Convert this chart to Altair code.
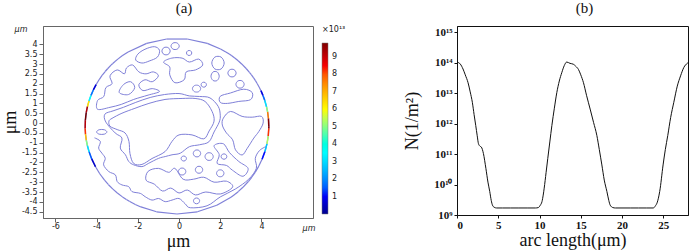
import altair as alt
import numpy as np
import pandas as pd

# ---------------- panel (b): N along the boundary arc ----------------
arc_s = [0.0, 0.4, 0.73, 1.0, 1.34, 1.6, 1.86, 2.07, 2.27, 2.45, 2.6, 2.8, 2.95, 3.2, 3.5,
         3.75, 3.97, 4.15, 4.3, 4.5, 4.8, 5.5, 6.5, 7.5, 8.5, 9.5, 9.85, 10.1, 10.3, 10.45,
         10.57, 10.8, 11.0, 11.25, 11.5, 11.8, 12.1, 12.4, 12.7, 13.0, 13.3, 13.7, 14.1, 14.4,
         14.72, 15.0, 15.33, 15.7, 16.14, 16.55, 16.95, 17.25, 17.56, 17.85, 18.17, 18.4,
         18.57, 18.9, 19.2, 20.0, 21.0, 22.0, 23.0, 23.8, 24.05, 24.25, 24.57, 24.98, 25.25,
         25.55, 25.9, 26.28, 26.7, 27.1, 27.5, 27.9, 28.0]
arc_N = [1.05e14, 9.0e13, 6.2e13, 4.0e13, 2.2e13, 1.1e13, 5.0e12, 2.0e12, 8.7e11, 4.0e11,
         2.2e11, 1.8e11, 1.7e11, 1.05e11, 3.4e10, 1.2e10, 5.9e9, 3.0e9, 2.1e9, 1.8e9, 1.7e9,
         1.7e9, 1.7e9, 1.7e9, 1.7e9, 1.7e9, 1.75e9, 2.1e9, 2.75e9, 4.5e9, 7.6e9, 2.5e10,
         7.1e10, 2.5e11, 8.7e11, 3.2e12, 1.05e13, 2.5e13, 4.7e13, 8.0e13, 1.05e14, 9.5e13,
         8.9e13, 7.6e13, 6.0e13, 4.0e13, 2.2e13, 8.5e12, 3.0e12, 1.1e12, 4.1e11, 1.4e11,
         4.4e10, 1.4e10, 5.9e9, 3.0e9, 2.1e9, 1.75e9, 1.7e9, 1.7e9, 1.7e9, 1.7e9, 1.7e9,
         1.7e9, 2.0e9, 2.5e9, 5.9e9, 4.4e10, 1.4e11, 4.1e11, 1.6e12, 5.0e12, 1.7e13, 3.7e13,
         7.0e13, 9.5e13, 1.0e14]
decades = [1e9, 1e10, 1e11, 1e12, 1e13, 1e14, 1e15]
arc_ticks = [0, 5, 10, 15, 20, 25]

# ---------------- panel (a): contour lines (um) ----------------
circle_center = (-0.1, -0.16)
circle_length = 28.0

central = [(-3.25, 0.24), (-2.77, 0.5), (-2.14, 0.75), (-1.46, 1.0), (-0.68, 1.2), (0.15, 1.25),
           (0.78, 1.25), (1.26, 1.1), (1.6, 0.6), (1.7, 0.1), (1.46, -0.4), (1.2, -0.8),
           (0.63, -0.6), (0.0, -0.6), (-0.34, -0.93), (-0.68, -1.45), (-1.31, -1.8), (-1.8, -2.1),
           (-2.2, -2.05), (-2.38, -1.55), (-2.43, -0.93), (-2.62, -0.5), (-3.0, -0.33),
           (-3.35, -0.16), (-3.4, 0.1)]
band = [(-3.6, 0.45), (-3.2, 0.62), (-2.7, 0.8), (-2.1, 1.05), (-1.4, 1.3), (-0.7, 1.45),
        (0.0, 1.5), (0.5, 1.38), (1.0, 1.35), (1.5, 1.28), (1.9, 0.85), (2.0, 0.4), (1.95, 0.05),
        (1.7, -0.45), (1.45, -0.95), (1.0, -1.1), (0.5, -1.2), (0.06, -1.53), (-0.34, -1.61),
        (-0.67, -1.7), (-0.99, -1.79), (-1.47, -2.04), (-1.8, -2.21), (-2.2, -2.12),
        (-2.44, -1.95), (-2.6, -1.61), (-2.85, -1.27), (-2.77, -0.76), (-3.1, -0.5), (-3.55, 0.05)]
upper_left = [(-3.95, 0.7), (-3.95, 1.15), (-3.65, 1.35), (-3.55, 1.8), (-3.25, 2.0), (-3.35, 2.4),
              (-3.0, 2.7), (-2.65, 2.5), (-2.55, 2.8), (-2.25, 2.95), (-1.95, 2.6), (-1.6, 2.5),
              (-1.25, 2.6), (-1.0, 2.4), (-1.3, 2.1), (-1.65, 2.2), (-1.95, 1.95), (-1.75, 1.65),
              (-1.3, 1.75), (-0.95, 1.6), (-1.5, 1.42), (-2.2, 1.2), (-2.8, 0.95), (-3.35, 0.8)]
upper_left_hole = [(-2.9, 1.55), (-2.7, 1.95), (-2.35, 2.1), (-2.15, 1.8), (-2.45, 1.45)]
top_left_blob = [(-2.0, 3.5), (-1.65, 3.75), (-1.2, 3.88), (-0.95, 3.7), (-1.05, 3.35),
                 (-1.45, 3.15), (-1.8, 3.05), (-2.1, 3.2)]
top_middle = [(-0.75, 3.1), (-0.45, 2.85), (-0.45, 2.45), (-0.2, 2.05), (0.25, 2.2), (0.35, 2.6),
              (0.8, 2.7), (1.15, 2.95), (0.95, 3.25), (0.5, 3.1), (0.15, 3.3), (-0.35, 3.3)]
right_upper = [(2.0, 1.36), (2.5, 1.53), (3.14, 1.72), (3.55, 1.55), (3.47, 1.19), (2.9, 1.1),
               (2.35, 1.0), (2.0, 1.05)]
right_middle = [(2.15, 0.25), (2.5, 0.59), (3.06, 0.34), (3.55, 0.3), (4.0, 0.34), (4.08, 0.0),
                (3.87, -0.43), (3.63, -0.76), (3.31, -1.28), (3.06, -1.62), (2.74, -1.36),
                (2.6, -0.85), (2.3, -0.5), (2.1, -0.1)]
bottom_right = [(1.7, -1.15), (2.15, -1.05), (2.45, -1.5), (2.9, -1.95), (3.35, -2.3), (3.1, -2.7),
                (2.6, -2.4), (2.3, -2.15), (1.85, -2.05), (1.95, -1.6)]
bottom = [(-1.5, -2.45), (-1.0, -2.3), (-0.5, -2.5), (-0.2, -2.3), (0.2, -2.85), (0.7, -2.85),
          (1.2, -2.75), (1.7, -3.0), (2.3, -2.95), (2.6, -3.25), (2.0, -3.6), (1.3, -3.5),
          (0.8, -3.65), (0.4, -3.4), (0.0, -3.55), (-0.4, -3.3), (-0.8, -3.45), (-1.2, -3.1),
          (-1.6, -2.9)]
lower_rim = [(-4.1, -0.75), (-3.82, -0.93), (-3.9, -1.27), (-3.74, -1.53), (-3.58, -1.79),
             (-3.66, -2.12), (-3.41, -2.46), (-3.09, -2.63), (-3.0, -2.97), (-2.77, -3.14),
             (-2.44, -3.23), (-2.28, -3.48), (-1.88, -3.57), (-1.64, -3.74), (-1.31, -3.91),
             (-0.99, -3.83), (-0.67, -3.99), (-0.34, -3.91), (0.0, -3.83), (0.3, -4.1),
             (0.55, -4.3), (1.36, -4.2), (2.0, -3.75), (2.73, -3.35), (3.38, -2.85), (3.75, -2.3),
             (3.7, -1.79), (3.9, -1.4), (4.2, -1.2)]
# small islands: centre x, centre y, half-width, half-height (um)
islands = [(-0.19, 3.91, 0.2, 0.18), (-0.63, 3.66, 0.2, 0.2), (0.49, 3.56, 0.13, 0.13),
           (1.89, 3.05, 0.3, 0.35), (2.57, 2.54, 0.2, 0.2), (1.75, 2.38, 0.2, 0.25),
           (2.96, 1.97, 0.2, 0.2), (0.85, 1.75, 0.2, 0.18), (1.2, 1.95, 0.13, 0.13),
           (-3.75, -0.45, 0.25, 0.13), (0.87, -1.54, 0.18, 0.18), (1.46, -1.7, 0.2, 0.2),
           (0.23, -1.8, 0.13, 0.13), (0.97, -2.37, 0.18, 0.18), (0.15, -2.46, 0.18, 0.18),
           (2.0, -2.55, 0.18, 0.18), (2.18, -1.7, 0.14, 0.14), (0.85, -3.95, 0.15, 0.15)]

closed_contours = [central, band, upper_left, upper_left_hole, top_left_blob, top_middle,
                   right_upper, right_middle, bottom_right, bottom]
open_contours = [lower_rim]

# axis ticks and colour bar (x1e13)
a_xticks = [-6, -4, -2, 0, 2, 4]
a_yticks = [-4.5, -4, -3.5, -3, -2.5, -2, -1.5, -1, -0.5, 0, 0.5, 1, 1.5, 2, 2.5, 3, 3.5, 4]
cbar_ticks = [1, 2, 3, 4, 5, 6, 7, 8, 9]
cbar_max = 9.8e13

# ---------------- build tables ----------------
rows = []
cid = 0
for poly in closed_contours:
    for k, (x, y) in enumerate(poly):
        rows.append({"id": cid, "k": k, "x": x, "y": y})
    cid += 1
hexa = [(1, 0), (0.5, 0.866), (-0.5, 0.866), (-1, 0), (-0.5, -0.866), (0.5, -0.866)]
for (cx, cy, rx, ry) in islands:
    for k, (c, s) in enumerate(hexa):
        rows.append({"id": cid, "k": k, "x": cx + rx * c, "y": cy + ry * s})
    cid += 1
closed_df = pd.DataFrame(rows)

rows = []
for poly in open_contours:
    for k, (x, y) in enumerate(poly):
        rows.append({"id": cid, "k": k, "x": x, "y": y})
    cid += 1
open_df = pd.DataFrame(rows)

R = circle_length / (2 * np.pi)
seg = []
for i in range(len(arc_s) - 1):
    a0, a1 = arc_s[i] / R, arc_s[i + 1] / R
    seg.append({
        "x": circle_center[0] + R * np.cos(a0), "y": circle_center[1] + R * np.sin(a0),
        "x2": circle_center[0] + R * np.cos(a1), "y2": circle_center[1] + R * np.sin(a1),
        "N": 0.5 * (arc_N[i] + arc_N[i + 1]),
    })
seg_df = pd.DataFrame(seg)

arc_df = pd.DataFrame({"s": arc_s, "N": arc_N})

# ---------------- panel (a) ----------------
LINE_COL = "#7f80d8"
AX_COL = "#666666"
xs = alt.Scale(domain=[-6.6, 6.5], nice=False, zero=False)
ys = alt.Scale(domain=[-4.82, 4.93], nice=False, zero=False)
xaxis = alt.Axis(values=a_xticks, labelExpr="'' + datum.value", title="μm",
                 titleFont="Liberation Serif", titleFontSize=18, titleFontWeight="normal",
                 titleColor="#111", titlePadding=2, labelFont="DejaVu Sans", labelFontSize=8,
                 labelColor="#222", tickColor=AX_COL, domainColor=AX_COL, tickSize=4,
                 labelPadding=0, grid=False, labelOverlap=False)
yaxis = alt.Axis(values=a_yticks, labelExpr="'' + datum.value", title="μm",
                 titleFont="Liberation Serif", titleFontSize=18, titleFontWeight="normal",
                 titleColor="#111", titlePadding=2, labelFont="DejaVu Sans", labelFontSize=8,
                 labelColor="#222", tickColor=AX_COL, domainColor=AX_COL, tickSize=4,
                 labelPadding=2, grid=False, labelOverlap=False)
X = alt.X("x:Q", scale=xs, axis=xaxis)
Y = alt.Y("y:Q", scale=ys, axis=yaxis)

contours_closed = alt.Chart(closed_df).mark_line(
    interpolate="cardinal-closed", color=LINE_COL, strokeWidth=1
).encode(x=X, y=Y, detail="id:N", order="k:Q")
contours_open = alt.Chart(open_df).mark_line(
    interpolate="cardinal", color=LINE_COL, strokeWidth=1
).encode(x=X, y=Y, detail="id:N", order="k:Q")

rim_base = alt.Chart(seg_df).mark_rule(color=LINE_COL, strokeWidth=1.2).encode(
    x=X, y=Y, x2="x2:Q", y2="y2:Q")

jet = ["#00008f", "#0000ff", "#00ffff", "#ffff00", "#ff0000", "#800000"]
jet_dom = [0, 0.11 * cbar_max, 0.36 * cbar_max, 0.61 * cbar_max, 0.86 * cbar_max, cbar_max]
rim_col = alt.Chart(seg_df).transform_filter("datum.N > 4e12").mark_rule(strokeWidth=1.5).encode(
    x=X, y=Y, x2="x2:Q", y2="y2:Q",
    color=alt.Color("N:Q", scale=alt.Scale(domain=jet_dom, range=jet),
                    legend=alt.Legend(title="×10¹³", values=[v * 1e13 for v in cbar_ticks],
                                      labelExpr="round(datum.value / 1e13)",
                                      gradientLength=171, gradientThickness=6,
                                      gradientStrokeColor="#777", gradientStrokeWidth=0.5,
                                      orient="right", offset=9, direction="vertical",
                                      titleFont="DejaVu Sans", titleFontSize=8,
                                      titleFontWeight="normal", titleColor="#222",
                                      titlePadding=9, labelFont="DejaVu Sans",
                                      labelFontSize=8, labelColor="#222", labelOffset=4,
                                      labelOverlap=False)))

unit_df = pd.DataFrame({"t": ["μm"]})
unit_top = alt.Chart(unit_df).mark_text(font="DejaVu Sans", fontSize=8, color="#222",
                                        fontStyle="italic").encode(
    text="t:N", x=alt.value(-22), y=alt.value(4))
unit_right = alt.Chart(unit_df).mark_text(font="DejaVu Sans", fontSize=8, color="#222",
                                          fontStyle="italic").encode(
    text="t:N", x=alt.value(266), y=alt.value(203))

TITLE_OFF = 10
left = alt.layer(rim_base, contours_closed, contours_open, rim_col, unit_top, unit_right).properties(
    width=270, height=192,
    view=alt.ViewBackground(stroke=AX_COL, strokeWidth=1),
    title=alt.TitleParams("(a)", font="Liberation Serif", fontSize=15, fontWeight="normal",
                          color="#111", offset=TITLE_OFF, dx=6))

# ---------------- panel (b) ----------------
sup = "['⁹','¹⁰','¹¹','¹²','¹³','¹⁴','¹⁵']"
right = alt.Chart(arc_df).mark_line(color="#111", strokeWidth=1, interpolate="monotone").encode(
    x=alt.X("s:Q", scale=alt.Scale(domain=[0, 28], nice=False, zero=False),
            axis=alt.Axis(values=arc_ticks, title="arc length(μm)",
                          titleFont="Liberation Serif", titleFontSize=18,
                          titleFontWeight="normal", titleColor="#111", titlePadding=1,
                          labelFont="Liberation Serif", labelFontSize=11, labelFontWeight="bold",
                          labelColor="#111", tickColor="#111", domainColor="#111", tickSize=3,
                          labelPadding=1, grid=False)),
    y=alt.Y("N:Q", scale=alt.Scale(type="log", domain=[1e9, 1.6e15], nice=False),
            axis=alt.Axis(values=decades, title="N(1/m²)",
                          labelExpr="'10' + " + sup + "[round(log(datum.value) / LN10) - 9]",
                          titleFont="Liberation Serif", titleFontSize=18,
                          titleFontWeight="normal", titleColor="#111", titlePadding=12,
                          labelFont="Liberation Serif", labelFontSize=11, labelFontWeight="bold",
                          labelColor="#111", tickColor="#111", domainColor="#111", tickSize=3,
                          labelPadding=2, grid=False, labelOverlap=False)),
).properties(
    width=231, height=189,
    view=alt.ViewBackground(stroke="#111", strokeWidth=1),
    title=alt.TitleParams("(b)", font="Liberation Serif", fontSize=15, fontWeight="normal",
                          color="#111", offset=TITLE_OFF, dx=12))

chart = alt.hconcat(left, right, spacing=56).resolve_scale(
    color="independent").resolve_legend(color="independent").properties(
    padding={"left": 0, "top": 0, "right": 0, "bottom": 0},
    background="white").configure_axis(labelOverlap=False)

chart.save("out.html", embed_options={"renderer": "svg", "actions": False})
